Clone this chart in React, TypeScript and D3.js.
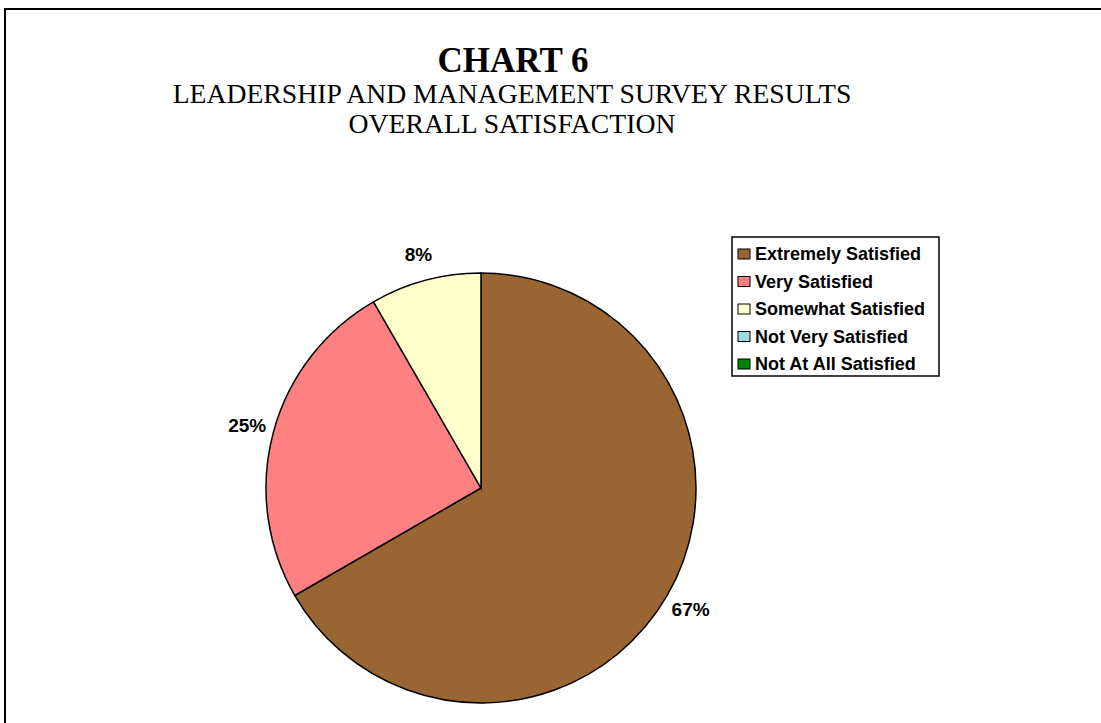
import React from "react";
import * as d3 from "d3";

const categories = [
  "Extremely Satisfied",
  "Very Satisfied",
  "Somewhat Satisfied",
  "Not Very Satisfied",
  "Not At All Satisfied",
];
const responses = [8, 3, 1, 0, 0];
const colors = ["#996633", "#FF8080", "#FFFFCC", "#A0DCDC", "#008000"];
const titleLines = [
  "CHART 6",
  "LEADERSHIP AND MANAGEMENT SURVEY RESULTS",
  "OVERALL SATISFACTION",
];

export default function App() {
  const W = 1101;
  const H = 723;
  const cx = 481;
  const cy = 488;
  const r = 215;
  const total = d3.sum(responses);
  const data = categories.map((c, i) => ({ c, v: responses[i], color: colors[i] }));
  const pie = d3
    .pie<any>()
    .sort(null)
    .value((d) => d.v)
    .startAngle(0)
    .endAngle(2 * Math.PI);
  const arcs = pie(data);
  const arc = d3.arc<any>().innerRadius(0).outerRadius(r);
  const labelArc = d3.arc<any>().innerRadius(r + 27).outerRadius(r + 27);
  const fmt = (v: number) => `${Math.round((v / total) * 100)}%`;

  const legX = 732;
  const legY = 237;
  const legW = 207;
  const legH = 139;
  const rowY = d3.scalePoint<string>().domain(categories).range([253, 363]);

  return (
    <svg
      width={W}
      height={H}
      style={{ position: "absolute", left: 0, top: 0, background: "#fff" }}
    >
      <rect x={0} y={0} width={W} height={H} fill="#fff" />
      <rect x={5} y={9} width={W + 20} height={H + 20} fill="none" stroke="#000" strokeWidth={2} />
      <g fontFamily="'Liberation Serif', 'Times New Roman', serif" textAnchor="middle" fill="#000">
        <text x={513} y={72} fontSize={35} fontWeight="bold">{titleLines[0]}</text>
        <text x={512} y={103} fontSize={27.7}>{titleLines[1]}</text>
        <text x={512} y={133} fontSize={27.7}>{titleLines[2]}</text>
      </g>
      <g transform={`translate(${cx},${cy})`}>
        {arcs.map((a, i) =>
          a.value > 0 ? (
            <path key={i} d={arc(a) as string} fill={a.data.color} stroke="#000" strokeWidth={1.5} />
          ) : null
        )}
        {arcs.map((a, i) => {
          if (a.value <= 0) return null;
          const [x, y] = labelArc.centroid(a);
          return (
            <text
              key={"l" + i}
              x={x}
              y={y}
              textAnchor="middle"
              dominantBaseline="central"
              fontFamily="'Liberation Sans', Arial, sans-serif"
              fontWeight="bold"
              fontSize={19}
            >
              {fmt(a.value)}
            </text>
          );
        })}
      </g>
      <g>
        <rect x={legX} y={legY} width={legW} height={legH} fill="#fff" stroke="#000" strokeWidth={1.5} />
        {categories.map((c, i) => (
          <g key={c} transform={`translate(${legX + 6},${rowY(c)})`}>
            <rect x={0} y={-4} width={12} height={10} fill={colors[i]} stroke="#000" strokeWidth={1} />
            <text
              x={17}
              y={1}
              dominantBaseline="central"
              fontFamily="'Liberation Sans', Arial, sans-serif"
              fontWeight="bold"
              fontSize={18}
            >
              {c}
            </text>
          </g>
        ))}
      </g>
    </svg>
  );
}
